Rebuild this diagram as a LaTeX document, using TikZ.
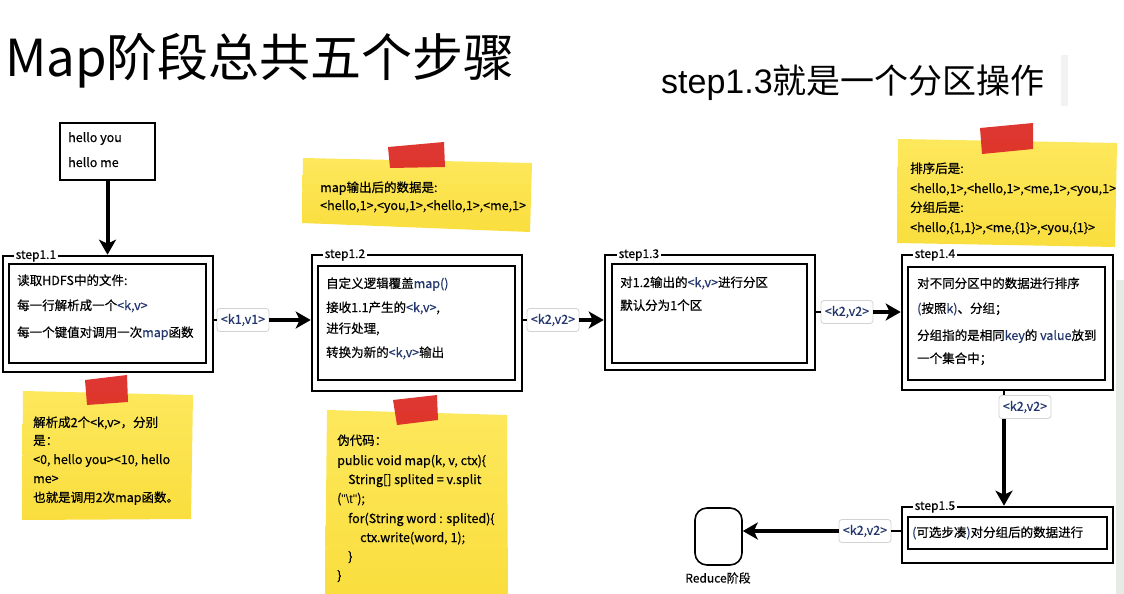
\documentclass[tikz,border=0pt]{standalone}
\usepackage{fontspec}
\setmainfont{Noto Sans CJK SC}
\newfontfamily\bodyfont[FakeBold=0.5]{Noto Sans CJK SC}
\newfontfamily\arialfont{Liberation Sans}
\usetikzlibrary{arrows.meta}
\definecolor{navy}{RGB}{35,55,110}
\definecolor{sticky}{RGB}{250,222,62}
\definecolor{stickytop}{RGB}{253,232,92}
\definecolor{tape}{RGB}{221,45,40}
\definecolor{edgegray}{RGB}{230,235,230}
\newcommand\bl[1]{\textcolor{navy}{#1}}
\begin{document}
\begin{tikzpicture}[x=1pt,y=-1pt,
  frame/.style={draw=black, line width=2.6pt, inner sep=0pt},
  txt/.style={anchor=base west, inner sep=0pt, font=\bodyfont\fontsize{12.5}{15}\selectfont},
  steplbl/.style={anchor=west, fill=white, inner sep=1.5pt, font=\bodyfont\fontsize{12}{14}\selectfont},
  kv/.style={draw=gray!35, line width=0.8pt, rounded corners=3pt, fill=white, text=navy, font=\bodyfont\fontsize{12.5}{15}\selectfont, inner sep=0pt, minimum width=52pt, minimum height=23pt},
  arr/.style={line width=4pt, -{Stealth[length=15pt,width=17pt,inset=4pt]}},
  tick/.style={line width=1.5pt},
  note/.style={top color=stickytop, bottom color=sticky},
  tapest/.style={fill=tape, opacity=0.95}
]
\useasboundingbox (0,0) rectangle (1124,594);
\fill[white] (0,0) rectangle (1124,594);
% faint screenshot artefacts at the right edge
\fill[gray!10] (1061,55) rectangle (1068,106);
\fill[edgegray] (1116,280) rectangle (1124,594);

% titles
\node[anchor=base west, inner sep=0pt, font=\fontsize{51}{60}\selectfont] (title) at (5,77) {Map阶段总共五个步骤};
\node[anchor=base west, inner sep=0pt, font=\fontsize{34}{40}\selectfont] (sub) at (661,93) {{\arialfont step1.3}就是一个分区操作};

% input box
\node[draw, line width=2pt, minimum width=95pt, minimum height=57pt, inner sep=0pt] (in) at (107.5,151.5) {};
\node[txt] (in1) at (68,142) {hello you};
\node[txt] (in2) at (68,167) {hello me};

% ---------- step 1.1 ----------
\node[frame, minimum width=210pt, minimum height=116pt] (s11) at (108,314) {};
\node[frame, minimum width=197pt, minimum height=99pt] (s11i) at (107.5,313.5) {};
\node[steplbl] (s11l) at (14,256) {step1.1};
\node[txt] (t11a) at (17,285) {读取HDFS中的文件:};
\node[txt] (t11b) at (17,310) {每一行解析成一个\bl{<k,v>}};
\node[txt] (t11c) at (17,337) {每一个键值对调用一次\bl{map}函数};

% ---------- step 1.2 ----------
\node[frame, minimum width=210pt, minimum height=136pt] (s12) at (417,323) {};
\node[frame, minimum width=197pt, minimum height=114pt] (s12i) at (416.5,323) {};
\node[steplbl] (s12l) at (323,255) {step1.2};
\node[txt] (t12a) at (326,288) {自定义逻辑覆盖\bl{map()}};
\node[txt] (t12b) at (326,312) {接收1.1产生的\bl{<k,v>},};
\node[txt] (t12c) at (326,333) {进行处理,};
\node[txt] (t12d) at (326,357) {转换为新的\bl{<k,v>}输出};

% ---------- step 1.3 ----------
\node[frame, minimum width=210pt, minimum height=115pt] (s13) at (710,312.5) {};
\node[frame, minimum width=195pt, minimum height=99pt] (s13i) at (709.5,313.5) {};
\node[steplbl] (s13l) at (617,255) {step1.3};
\node[txt] (t13a) at (620,287) {对1.2输出的\bl{<k,v>}进行分区};
\node[txt] (t13b) at (620,310) {默认分为1个区};

% ---------- step 1.4 ----------
\node[frame, minimum width=211pt, minimum height=135pt] (s14) at (1007.5,322.5) {};
\node[frame, minimum width=197pt, minimum height=113pt] (s14i) at (1006.5,323.5) {};
\node[steplbl] (s14l) at (913,255) {step1.4};
\node[txt] (t14a) at (917,288) {对不同分区中的数据进行排序};
\node[txt] (t14b) at (917,313) {\bl{(}按照\bl{k)}、分组；};
\node[txt] (t14c) at (917,340) {分组指的是相同\bl{key}的 \bl{value}放到};
\node[txt] (t14d) at (917,363) {一个集合中；};

% ---------- step 1.5 ----------
\node[frame, minimum width=211pt, minimum height=56pt] (s15) at (1007.5,535) {};
\node[frame, minimum width=199pt, minimum height=32pt] (s15i) at (1007.5,533) {};
\node[steplbl] (s15l) at (913,507) {step1.5};
\node[txt] (t15a) at (912,537) {\bl{(}可选步凑\bl{)}对分组后的数据进行};

% Reduce stage
\node[draw, line width=1.6pt, rounded corners=12pt, minimum width=47pt, minimum height=57pt, inner sep=0pt] (red) at (718.5,536.5) {};
\node[font=\bodyfont\fontsize{12}{14}\selectfont, inner sep=0pt] (redl) at (718,578) {Reduce阶段};

% ---------- connectors ----------
\draw[arr] (in.south) -- (in.south |- s11.north);

\node[kv] (k1) at (243,320) {<k1,v1>};
\draw[tick] (s11.east |- k1) -- (k1.west);
\draw[arr] (k1.east) -- (s12.west |- k1);

\node[kv] (k2) at (553,320) {<k2,v2>};
\draw[tick] (s12.east |- k2) -- (k2.west);
\draw[arr] (k2.east) -- (s13.west |- k2);

\node[kv] (k3) at (847,312) {<k2,v2>};
\draw[tick] (s13.east |- k3) -- (k3.west);
\draw[arr] (k3.east) -- (s14.west |- k3);

\coordinate (v) at (1004,0);
\node[kv] (k4) at (1025,407) {<k2,v2>};
\draw[tick] (s14.south -| v) -- (k4.north -| v);
\draw[arr] (k4.south -| v) -- (s15.north -| v);

\node[kv] (k5) at (865,531) {<k2,v2>};
\draw[tick] (s15.west |- k5) -- (k5.east);
\draw[arr] (k5.west) -- (red.east |- k5);

% ---------- sticky notes ----------
% note below step 1.1
\shade[note] (23,391) -- (193,395) -- (191,519) -- (22,520) -- cycle;
\fill[tapest] (85,380) -- (127,375) -- (128,402) -- (87,405) -- cycle;
\node[txt] (n1a) at (33,427) {解析成2个<k,v>，分别};
\node[txt] (n1b) at (33,445) {是：};
\node[txt] (n1c) at (33,464) {<0, hello you><10, hello};
\node[txt] (n1d) at (33,483) {me>};
\node[txt] (n1e) at (33,502) {也就是调用2次map函数。};

% note above step 1.2
\shade[note] (303,158) -- (532,163) -- (530,232) -- (302,223) -- cycle;
\fill[tapest] (388,147) -- (444,142) -- (445,167) -- (390,168) -- cycle;
\node[txt] (n2a) at (320,192) {map输出后的数据是:};
\node[txt] (n2b) at (320,210) {<hello,1>,<you,1>,<hello,1>,<me,1>};

% note below step 1.2 (pseudo code)
\shade[note] (327,410) -- (507,415) -- (508,594) -- (325,594) -- cycle;
\fill[tapest] (393,400) -- (437,395) -- (438,420) -- (397,425) -- cycle;
\node[txt] (n3a) at (337,445) {伪代码：};
\node[txt] (n3b) at (337,465) {public void map(k, v, ctx)\{};
\node[txt] (n3c) at (348,484) {String[] splited = v.split};
\node[txt] (n3d) at (337,503) {({\arialfont "\textbackslash t"});};
\node[txt] (n3e) at (348,523) {for(String word : splited)\{};
\node[txt] (n3f) at (360,542) {ctx.write(word, 1);};
\node[txt] (n3g) at (348,561) {\}};
\node[txt] (n3h) at (337,580) {\}};

% note above step 1.4
\shade[note] (898,139) -- (1117,143) -- (1115,247) -- (897,243) -- cycle;
\fill[tapest] (980,128) -- (1033,123) -- (1033,149) -- (982,154) -- cycle;
\node[txt] (n4a) at (910,173) {排序后是:};
\node[txt] (n4b) at (910,193) {<hello,1>,<hello,1>,<me,1>,<you,1>};
\node[txt] (n4c) at (910,212) {分组后是:};
\node[txt] (n4d) at (910,232) {<hello,\{1,1\}>,<me,\{1\}>,<you,\{1\}>};
\end{tikzpicture}
\end{document}
